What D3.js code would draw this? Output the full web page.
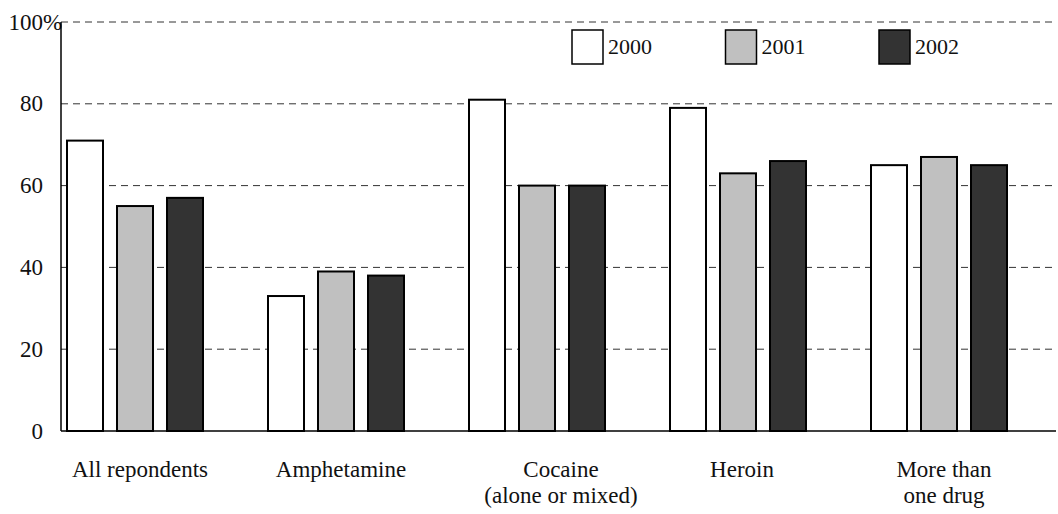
<!DOCTYPE html>
<html><head><meta charset="utf-8">
<script src="https://cdn.jsdelivr.net/npm/d3@7"></script>
<style>body{margin:0;background:#fff}svg{display:block}</style>
</head><body><svg id="c" width="1058" height="514"></svg>
<script>
const categories = [["All repondents"],["Amphetamine"],["Cocaine","(alone or mixed)"],["Heroin"],["More than","one drug"]];
const seriesNames = ["2000","2001","2002"];
const v2000 = [71,33,81,79,65];
const v2001 = [55,39,60,63,67];
const v2002 = [57,38,60,66,65];
const yTicks = [0,20,40,60,80,100];
const colors = ["#ffffff","#c0c0c0","#333333"];

const series = [v2000,v2001,v2002];
const FONT = "'Liberation Serif'";
const svg = d3.select("#c");
const fs = 23;
const labelShift = [5,5,24,4,5]; // layout: horizontal nudge of category labels
const y = d3.scaleLinear().domain([0,100]).range([431,22]);
const x0 = d3.scaleBand().domain(d3.range(categories.length)).range([34.5,1039.5]);
const x1 = d3.scaleBand().domain(d3.range(3)).range([-68,68]).paddingInner(0.28).paddingOuter(0);
const axisX = 61, rightX = 1056;

// gridlines
svg.append("g").selectAll("line").data(yTicks.filter(t=>t>0)).join("line")
  .attr("x1",axisX).attr("x2",rightX).attr("y1",d=>y(d)).attr("y2",d=>y(d))
  .attr("stroke","#333").attr("stroke-width",1).attr("stroke-dasharray","7,5");

// y labels
const yl = svg.append("g");
yl.selectAll("text").data(yTicks).join("text")
  .style("font-family",FONT).attr("font-size",fs).attr("fill","#111")
  .attr("x",43).attr("y",d=>y(d)).attr("dy","0.33em").attr("text-anchor","end")
  .text(d=>d);
yl.append("text").style("font-family",FONT).attr("font-size",fs).attr("fill","#111")
  .attr("x",43).attr("y",y(100)).attr("dy","0.33em").text("%");

// bars
const g = svg.append("g");
categories.forEach((c,i)=>{
  const cx = x0(i)+x0.bandwidth()/2;
  series.forEach((s,j)=>{
    g.append("rect").attr("x",cx+x1(j)).attr("width",x1.bandwidth())
      .attr("y",y(s[i])).attr("height",y(0)-y(s[i]))
      .attr("fill",colors[j]).attr("stroke","#000").attr("stroke-width",2);
  });
  c.forEach((line,k)=>svg.append("text").style("font-family",FONT).attr("font-size",fs)
    .attr("fill","#111").attr("text-anchor","middle")
    .attr("x",cx+labelShift[i]).attr("y",477+k*26).text(line));
});

// axes lines
svg.append("line").attr("x1",axisX).attr("x2",axisX).attr("y1",y(100)).attr("y2",y(0)).attr("stroke","#000").attr("stroke-width",1.5);
svg.append("line").attr("x1",axisX).attr("x2",rightX).attr("y1",y(0)).attr("y2",y(0)).attr("stroke","#000").attr("stroke-width",1.5);

// legend
const lg = svg.append("g");
seriesNames.forEach((n,j)=>{
  const lx = 572 + j*153.5;
  lg.append("rect").attr("x",lx).attr("y",30).attr("width",31).attr("height",34)
    .attr("fill",colors[j]).attr("stroke","#000").attr("stroke-width",1.5);
  lg.append("text").style("font-family",FONT).attr("font-size",22).attr("fill","#111")
    .attr("x",lx+36).attr("y",54).text(n);
});
</script></body></html>
